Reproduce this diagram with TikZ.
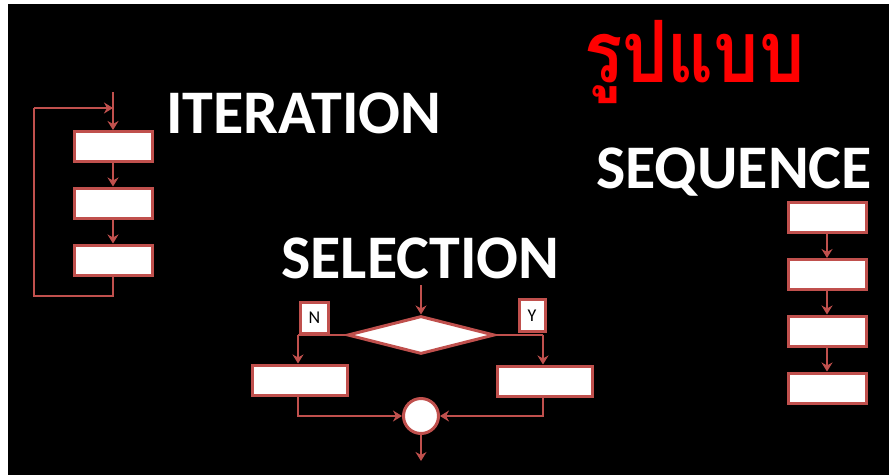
\documentclass[tikz,border=0pt]{standalone}
\usepackage{fontspec}
\setmainfont{Carlito}
\newfontfamily\thaifont[Script=Thai]{Loma}
\usetikzlibrary{arrows.meta,shapes.geometric}
\definecolor{fred}{HTML}{C0504D}
\begin{document}
\begin{tikzpicture}[x=1pt,y=-1pt,
  flow/.style={draw=fred,line width=3pt,fill=white,inner sep=0pt},
  conn/.style={draw=fred,line width=2.8pt,-{Stealth[length=9pt,width=11pt]}},
  plain/.style={draw=fred,line width=2.8pt},
  title/.style={text=white,font=\bfseries\fontsize{62}{62}\selectfont,anchor=base west,inner sep=0pt}]
\useasboundingbox (0,0) rectangle (889,475);
\fill[white] (0,0) rectangle (889,475);
\fill[black] (8,4) rectangle (889,475);
% titles
\node[title] (tit) at (166,133) {ITERATION};
\node[title] (tsel) at (281,278) {SELECTION};
\node[title] (tseq) at (596,188) {SEQUENCE};
\node[text=red,anchor=base west,inner sep=0pt,font=\thaifont\bfseries\fontsize{86}{86}\selectfont] (tthai) at (584,82) {\scalebox{0.83}[1]{รูปแบบ}};
% iteration
\node[flow,minimum width=78pt,minimum height=30pt] (i1) at (113,146.5) {};
\node[flow,minimum width=78pt,minimum height=30pt] (i2) at (113,203) {};
\node[flow,minimum width=78pt,minimum height=30pt] (i3) at (113,260) {};
\coordinate (istart) at (113,92);
\coordinate (ijoin) at (113,108);
\coordinate (ib) at (113,296);
\coordinate (ibl) at (34,296);
\coordinate (itl) at (34,108);
\draw[conn] (istart) -- (i1);
\draw[conn] (i1) -- (i2);
\draw[conn] (i2) -- (i3);
\draw[plain] (i3.south) -- (ib) -- (ibl) -- (itl);
\draw[conn] (itl) -- (ijoin);
% sequence
\node[flow,minimum width=78pt,minimum height=30pt] (s1) at (827,217.5) {};
\node[flow,minimum width=78pt,minimum height=30pt] (s2) at (827,274.5) {};
\node[flow,minimum width=78pt,minimum height=30pt] (s3) at (827,331) {};
\node[flow,minimum width=78pt,minimum height=30pt] (s4) at (827,388) {};
\draw[conn] (s1) -- (s2);
\draw[conn] (s2) -- (s3);
\draw[conn] (s3) -- (s4);
% selection
\node[flow,diamond,minimum width=147pt,minimum height=38pt,aspect=3.9] (d) at (421,335) {};
\coordinate (dtop) at (421,285);
\draw[conn] (dtop) -- (d.north);
\node[flow,minimum width=95pt,minimum height=30pt] (bl) at (300,380) {};
\node[flow,minimum width=95pt,minimum height=30pt] (br) at (544.5,381) {};
\node[flow,circle,minimum size=35pt] (c) at (421,416) {};
\coordinate (cend) at (421,461);
\coordinate (nl) at (298,335);
\coordinate (nr) at (543,335);
\draw[plain] (d.west) -- (nl);
\draw[conn] (nl) -- (nl |- bl.north);
\draw[plain] (d.east) -- (nr);
\draw[conn] (nr) -- (nr |- br.north);
\draw[conn] (bl.south -| nl) |- (c.west);
\draw[conn] (br.south -| nr) |- (c.east);
\draw[conn] (c.south) -- (cend);
\node[flow,minimum width=28pt,minimum height=31pt,font=\fontsize{18}{18}\selectfont] (N) at (314.5,317.5) {N};
\node[flow,minimum width=26pt,minimum height=32pt,font=\fontsize{18}{18}\selectfont] (Y) at (532,315.5) {Y};
\end{tikzpicture}
\end{document}
